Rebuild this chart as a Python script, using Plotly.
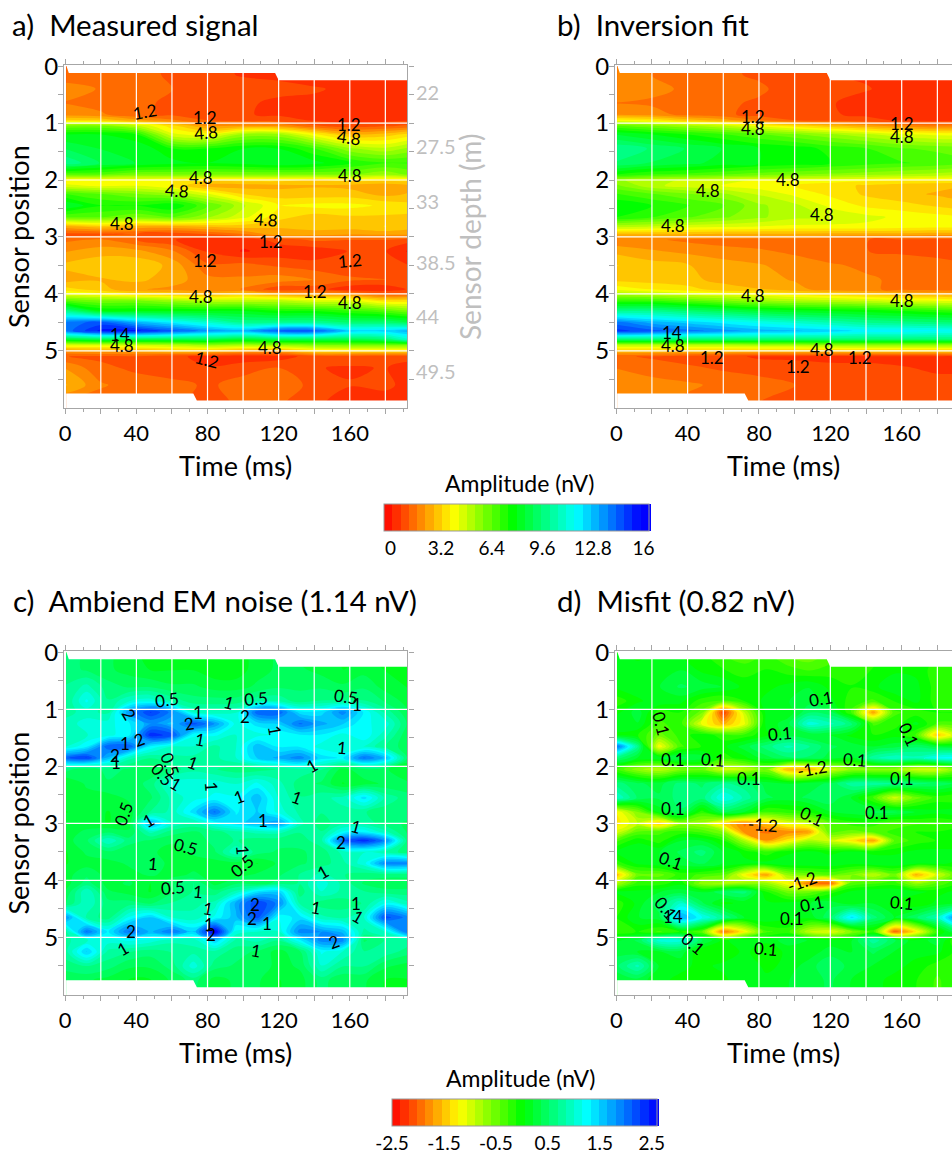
import plotly.graph_objects as go

W, H = 952, 1154
FONT = "Lato"

X_AB = [0.5, 20, 40, 60, 80, 100, 120, 140, 160, 180, 192.5]
Y_AB = [0, .15, .4, .65, .85, .95, 1.05, 1.2, 1.45, 1.7, 1.9, 2.0, 2.1, 2.25, 2.45, 2.65, 2.82, 2.95, 3.05, 3.25,
        3.5, 3.75, 3.92, 4.02, 4.12, 4.3, 4.5, 4.65, 4.8, 4.9, 5.0, 5.1, 5.3, 5.6, 5.9, 6]

MEASURED = [
 [1.6,1.6,1.4,1.1,.9,.6,.5,.5,.6,.7,.4],
 [1.6,1.6,1.4,1.1,.9,.6,.5,.5,.6,.7,.4],
 [1.8,1.7,1.5,1.2,1.1,1.0,.9,.7,.6,.6,.4],
 [1.7,1.5,1.3,1.1,1.0,.8,.5,.6,.4,.5,.6],
 [2.0,1.8,1.3,1.1,.9,.7,.6,.5,.3,.4,.6],
 [3.4,3.2,2.4,1.8,1.2,1.0,.9,.6,.4,.5,.6],
 [6.0,6,5,3.5,2.2,2.3,2.2,1.3,.9,1.1,1.3],
 [8,8,7.5,4.5,4,5.5,5.5,4,2.8,3,3.5],
 [9,8.5,8.5,7.5,7.5,8,8,7,5.5,5,5.5],
 [10,9,8.5,8.2,8,8.2,8.5,8.2,7.5,7,7],
 [6.5,6.5,6,6,6,6,6,6,6,5.5,6],
 [3.8,3.8,4,3.8,3.5,3.5,3.5,3.2,3.5,3.4,3.5],
 [4.5,4.2,4.3,3.8,2.5,2.5,2.6,2.7,2.6,2.4,2.6],
 [7,6.5,6,5.5,4.5,3.3,3,3,3,2.6,2.8],
 [8.5,7.5,7.5,8,6.5,5,3.8,4,4,3.7,3.5],
 [6.5,6.5,6,6.5,5.5,4.5,3.5,3,3.2,3.2,3.2],
 [2.5,3,2.5,2.5,2.8,3.0,2.8,3,3,3.3,3],
 [1,1,1.2,.9,1.2,1.7,2.6,2.5,2.3,2.4,2.4],
 [1.6,1.8,1.2,.7,.4,.3,.9,1.3,1.2,1.2,.9],
 [2.2,2.5,2.4,1.8,.6,.1,.3,.3,.7,.7,.1],
 [2.9,3.2,3.2,2.6,1.3,1.4,1.1,.9,.8,1.0,.7],
 [2.5,2.7,2.9,2.5,1.9,1.8,2.0,1.7,1.3,1.2,1.1],
 [3.5,3,2.3,2.1,1.8,1.7,.8,.9,.3,.3,.7],
 [4.5,4.2,3.7,3.4,3,3.4,2.8,2.5,2.4,1.5,1.5],
 [6.5,6,6,5.5,5,5,5,4.5,4.5,3.5,3.5],
 [10,8,8,8,8,8,7.5,7.5,7,6.5,6],
 [14,14.5,13,12,11,10,10,10,9.5,9.5,9],
 [14,15.5,15.5,14.5,13.5,13,14.5,14.5,12.5,12.5,13],
 [8.5,9,9,9,9,8.5,9,9,9,9.5,11],
 [4.5,4.5,4.7,5,5.5,5.2,5.5,5.8,6,6,6],
 [2.2,2.5,2.6,3,3.0,2.5,2.5,3.5,3.5,3.5,3.5],
 [1.2,1.1,1.1,.8,.5,.3,.4,.9,1.0,.9,.9],
 [2.2,1.3,1.1,.8,.7,1.0,1.2,.7,.6,.7,.4],
 [2.8,1.8,1.4,1.4,1.1,1.4,1.6,1.0,.7,.8,.5],
 [1.6,1.4,1.4,1.3,1.0,1.3,1.3,.8,.4,.4,.7],
 [1.6,1.4,1.4,1.3,1.0,1.3,1.3,.8,.4,.4,.7],
]

FIT = [
 [2.0,1.7,1.5,1.3,1.1,.9,.7,.6,.5,.4,.3],
 [2.0,1.7,1.5,1.3,1.1,.9,.7,.6,.5,.4,.3],
 [2.1,1.9,1.6,1.5,1.3,.9,.8,.7,.5,.4,.3],
 [1.7,1.6,1.4,1.3,1.1,.8,.7,.5,.4,.3,.3],
 [2.2,2.0,1.5,1.3,1.0,.8,.7,.6,.4,.3,.3],
 [4,3.7,3,2.5,1.7,1.2,1.0,.8,.6,.5,.5],
 [6.5,6,5.5,5,4.2,3.6,3,2.5,2,1.8,1.8],
 [8.5,8,7.5,7,6.5,6,5.5,5,4.5,4.2,4.2],
 [10,9.5,9,8.5,8,7.8,7.3,7,6.5,6.3,6.2],
 [9.5,9,8.7,8.3,8,7.8,7.5,7.2,7,6.8,6.6],
 [7.5,7,6.8,6.5,6.2,6,5.8,5.6,5.4,5.2,5],
 [5.5,5,4.8,4.5,4.3,4.2,4.1,4,3.8,3.8,3.8],
 [6,5,4.6,4.3,4,3.8,3.5,3.2,3,2.9,2.8],
 [7,6.5,6,5.5,4.8,4.2,3.7,3.2,2.9,2.7,2.5],
 [8,7.5,7,6.5,5.5,5,4.2,3.7,3.5,3.2,3.0],
 [7.5,7,6.5,6,5.5,5,4.8,4.5,4.2,4,3.9],
 [5,4.8,4.5,4.4,4.3,4.2,4.2,4.2,4.1,4,4],
 [2.8,2.8,2.8,2.7,2.7,2.7,2.6,2.6,2.6,2.5,2.5],
 [1.8,1.8,1.6,1.5,1.4,1.4,1.3,1.2,1.1,1,1],
 [2.6,2.3,2.1,1.9,1.8,1.6,1.3,1.2,1.1,1,.9],
 [3.3,3,2.8,2.5,2.3,2,1.8,1.6,1.5,1.4,1.3],
 [3.1,3,2.9,2.6,2.4,2.2,2.0,1.8,1.6,1.5,1.4],
 [4.2,3.8,3.5,3,2.8,2.4,2,1.8,1.6,1.5,1.4],
 [5.5,5.2,4.8,4.5,4.2,3.9,3.6,3.3,3.0,2.8,2.6],
 [7,7,6.5,6,5.5,5.2,5,4.8,4.5,4.3,4.2],
 [10,10,9.5,9,8.5,8.2,8,7.8,7.5,7.2,7],
 [14,13,12.5,12,11.5,11,10.5,10,9.8,9.6,9.5],
 [15,14.5,14,13.5,13,12.8,12.5,12,12,11.8,11.8],
 [9.5,9.5,9.5,9.5,9.5,9.5,9.5,9.5,9.5,9.5,9.5],
 [5,5,5,5,5.2,5.2,5.5,5.5,5.5,5.5,5.5],
 [3,3,3,3,3,3,3,3.2,3.2,3.2,3.2],
 [1.3,1.1,.9,.8,.6,.6,.5,.5,.5,.6,.7],
 [1.7,1.5,1.3,1.1,.9,.8,.8,.8,.7,.6,.6],
 [2.0,1.9,1.8,1.6,1.5,1.2,1.1,1.0,.9,.8,.8],
 [1.9,1.8,1.6,1.4,1.2,1.0,.9,.8,.8,.8,.8],
 [1.9,1.8,1.6,1.4,1.2,1.0,.9,.8,.8,.8,.8],
]

X_CD = [0.5, 12, 24, 36, 48, 60, 72, 84, 96, 108, 120, 132, 144, 156, 168, 180, 192.5]
Y_CD = [0, .3, .6, .85, 1.05, 1.25, 1.45, 1.65, 1.85, 2.05, 2.3, 2.55, 2.8, 3.0, 3.15, 3.3, 3.5, 3.7, 3.9, 4.05,
        4.2, 4.4, 4.65, 4.9, 5.05, 5.25, 5.5, 5.75, 6]

NOISE = [
 [.6,.5,.4,.3,.1,.2,.2,.1,.1,.3,.4,.3,.3,.2,.2,.1,.1],
 [.6,.5,.4,.3,.2,.2,.2,.1,.1,.3,.4,.4,.3,.2,.3,.2,.1],
 [.7,.9,.6,.5,.5,.4,.4,.3,.3,.4,.5,.5,.5,.4,.5,.3,.2],
 [.7,1.2,.7,1.0,1.1,.8,.6,.6,.6,.8,.8,.6,.7,.7,.7,.5,.3],
 [.8,.9,.8,1.8,2.3,1.9,1.0,.9,1.0,2.1,2.1,1.4,1.4,1.9,1.3,.8,.4],
 [.9,1.1,1.1,1.3,1.8,1.6,2.2,1.8,1.1,1.4,1.5,2.0,1.7,1.5,1.2,1.1,.5],
 [.9,1.0,1.1,1.3,2.4,2.2,1.2,1.2,1.0,1.1,1.2,1.3,1.3,1.1,1.3,.9,.4],
 [1.0,1.3,2.1,2.1,1.3,1.0,1.0,.8,1.0,1.6,1.3,1.3,1.1,1.0,1.0,.7,.4],
 [2.1,2.3,1.6,.9,.7,.8,.8,.8,1.0,1.5,1.7,1.9,1.4,1.3,2.0,1.6,.5],
 [.6,.4,.6,.5,.4,.6,.8,.7,.6,.6,.7,.8,.7,.3,.5,.4,.2],
 [.2,.4,.5,.4,.6,1.1,1.1,1.1,1.0,1.2,.9,.6,.5,.2,.3,.4,.4],
 [.3,.3,.3,.4,.5,.9,1.1,1.2,1.2,1.6,1.0,.7,.8,.9,1.4,.8,.6],
 [.2,.3,.2,.3,.7,.9,1.4,2.0,1.3,1.5,1.1,.8,.7,.8,.7,.6,.6],
 [.3,.3,.2,.3,1.7,1.0,.8,1.2,1.4,1.6,1.8,.9,.6,.8,.8,.6,.5],
 [.3,.4,.5,.4,.9,.6,.5,.6,.8,.9,.9,.7,.7,1.2,1.3,.9,.5],
 [.3,.5,1.0,.6,.5,.4,.4,.6,.7,.6,.6,.6,.8,2.1,2.4,1.9,.6],
 [.2,.4,.5,.4,.4,.3,.4,.5,1.0,.6,.5,.5,.6,.9,1.0,.8,.6],
 [.2,.3,.3,.4,.5,.3,.3,.3,.3,.2,.4,.5,.6,.8,1.1,1.9,1.9],
 [.3,.5,.3,.3,.4,.3,.4,.3,.3,.4,.5,.7,.9,.7,.6,.6,.6],
 [.3,.6,.3,.4,.2,.5,.7,.3,.5,.4,.6,.7,1.1,.8,.5,.4,.4],
 [.4,1.0,.4,.3,.2,.5,.7,.6,.9,1.4,1.5,.6,1.0,.8,.7,.6,.6],
 [.5,1.0,.6,.6,.5,.7,.8,.9,1.7,2.3,1.9,.8,.6,.6,.7,1.2,.9],
 [1.8,.8,.6,1.2,1.5,1.0,.9,1.2,1.6,2.2,1.2,1.4,.9,.8,1.0,2.2,1.9],
 [.8,2.0,1.3,2.0,1.6,2.0,1.5,2.7,1.1,1.0,1.0,1.9,1.8,1.6,.8,1.0,2.0],
 [.8,1.0,1.1,1.2,1.1,.9,.9,1.5,.8,.9,.7,1.3,1.9,1.9,.5,.7,.8],
 [.8,1.5,.8,.7,.6,.7,.8,.8,.6,.5,.3,.5,1.2,1.0,.7,.8,.6],
 [.6,.7,.6,.4,.4,.6,1.1,.6,.5,.5,.3,.4,1.0,.7,.7,.4,.3],
 [.4,.4,.3,.2,.2,.4,.6,.3,.4,.4,.2,.3,.6,.4,.4,.2,.2],
 [.4,.4,.3,.2,.2,.4,.6,.3,.4,.4,.2,.3,.6,.4,.4,.2,.2],
]

MISFIT = [
 [.1,0,.1,0,-.1,-.3,-.4,-.3,-.5,-.6,-.4,-.2,-.2,0,0,-.1,-.2],
 [.1,.1,.2,.2,0,-.1,-.2,-.1,-.2,-.3,-.2,-.2,-.1,0,0,-.2,-.1],
 [.1,.2,.2,.4,.3,.2,0,0,.1,.2,0,-.1,0,.2,.1,-.2,-.1],
 [-.2,0,.2,.1,-.2,-.3,-.1,.1,.2,.3,.1,-.2,-.3,-.1,.1,-.2,-.2],
 [0,.3,-.2,-.1,-.5,-2.2,-.9,.1,.1,.5,.4,-.3,-1.7,-.3,-.2,-.1,-.1],
 [.2,.2,-.3,-.2,-1.1,-1.6,-1.1,.1,.3,1.1,.9,.6,-.3,-.2,.1,-.3,-.3],
 [0,-.1,-.5,-.2,0,-.2,-.2,0,.3,.2,.2,0,-.1,0,-.3,-1.5,-.8],
 [2.0,.7,-1.2,-.3,-.1,0,.3,.6,.9,.7,.4,.3,.2,.3,.5,.3,.2],
 [.6,.2,.2,.4,.3,-.2,0,.3,.5,.5,.3,.2,.8,1.0,.9,1.2,1.3],
 [-.3,-.7,-.9,-.6,-.5,-1.0,-.9,-.6,-1.6,-1.6,-1.0,-.7,-.7,-.7,-1.0,-1.0,-.5],
 [.6,.4,.3,.6,.5,.7,.6,.3,.2,.3,.4,.8,.8,.7,.6,.5,.3],
 [1.0,.5,.4,.6,.6,1.2,.8,.4,.3,.4,.5,.2,-.3,-1.0,-.5,-.2,-.3],
 [-1.2,-.6,.1,.5,-.2,.4,.2,-.3,-.2,-.1,.2,.3,.4,.4,.2,.1,.2],
 [-1.3,-.9,-1.5,-.7,-.8,-1.4,-1.9,-1.5,-1.1,-.9,-.4,-.2,-.2,-.4,-.3,-.3,-.2],
 [-1.0,-.4,-.3,-.2,-.3,-.6,-1.8,-1.9,-1.8,-1.7,-.4,-.5,-.4,-.2,-.1,-.1,0],
 [-.3,0,-.2,.2,.2,-.1,-.8,-1.7,-1.3,-.8,-1.0,-1.3,-1.7,-.4,-.2,-.1,-.1],
 [.1,.2,.2,.4,.6,.2,0,-.2,0,.1,0,.1,0,0,.1,.1,.1],
 [-.2,.1,.2,.3,.4,.2,.1,.1,.2,.2,.2,.1,.2,.2,.1,.1,0],
 [-1.5,-.5,-.5,-.2,-.3,-.4,-1.2,-1.7,-.7,-.5,-.4,-.6,-.9,-.5,-1.6,-1.0,-.3],
 [-.8,-.2,-.2,0,-.7,-.8,-.7,-.7,-1.2,-1.9,-2.0,-.4,-.3,-.2,-.7,-.4,-.1],
 [.1,.1,.2,.3,.2,.5,.6,-.1,-.5,-.5,-.2,.1,.2,.2,.1,0,.1],
 [-.2,.1,.5,1.0,.4,0,.1,.1,.1,.2,.3,.1,.2,0,-.1,.1,.2],
 [-.1,.2,.3,1.7,1.2,.7,.2,.2,.1,.1,.5,1.4,.6,.2,.5,.9,2.1],
 [-.2,-.1,-.3,-.1,-.4,-1.9,-1.2,-.3,-.2,-.9,-1.1,-.6,-.2,-2.0,-1.3,-.2,.6],
 [.2,.4,1.1,1.1,.4,0,.2,.1,.3,.2,.1,.2,.8,.4,.1,.3,-.4],
 [.3,.2,.2,.3,-.1,-.1,.1,-.1,.1,.1,.3,.2,.4,.2,.1,.1,-.2],
 [.5,.9,.2,.1,0,.1,.2,0,.1,.3,.5,.3,.2,.1,0,-.2,-.3],
 [.2,.3,.1,0,-.1,0,.2,.1,.2,.3,.4,.2,.1,0,-.1,-.3,-.1],
 [.2,.3,.1,0,-.1,0,.2,.1,.2,.3,.4,.2,.1,0,-.1,-.3,-.1],
]

LABELS_A = [(44.9,.80,"1.2",-10),(78.5,.90,"1.2",0),(78.9,1.16,"4.8",-5),(159.8,1.02,"1.2",0),(159.8,1.26,"4.8",8),
 (76.6,1.95,"4.8",0),(63,2.19,"4.8",5),(160,1.92,"4.8",0),(32,2.77,"4.8",0),(113,2.70,"4.8",5),(115.5,3.08,"1.2",0),
 (78.5,3.42,"1.2",0),(160.4,3.42,"1.2",-5),(140.7,3.95,"1.2",0),(76.4,4.05,"4.8",0),(160,4.15,"4.8",0),(30.8,4.71,"14",0),
 (32,4.91,"4.8",0),(115.3,4.95,"4.8",0),(79.8,5.16,"1.2",15)]
LABELS_B = [(76.4,.89,"1.2",0),(76.4,1.09,"4.8",0),(160,1.0,"1.2",0),(160,1.24,"4.8",0),(96,2.0,"4.8",0),(51.2,2.19,"4.8",0),
 (115.5,2.6,"4.8",0),(32,2.8,"4.8",0),(76.4,4.02,"4.8",0),(160,4.12,"4.8",0),(31,4.68,"14",0),(32,4.9,"4.8",0),
 (115.5,4.97,"4.8",0),(53.5,5.12,"1.2",0),(101.7,5.27,"1.2",0),(136.8,5.12,"1.2",0)]
LABELS_C = [(57.4,.82,"0.5",-8),(91.8,.88,"1",15),(107,.80,"0.5",-5),(158,.77,"0.5",8),(164,.92,"1",0),(36,1.09,"2",60),
 (74.8,1.05,"1",0),(69.7,1.25,"2",-10),(101,1.13,"2",0),(118,1.37,"1",80),(41.5,1.52,"2",-20),(33.6,1.60,"1",0),
 (76,1.52,"1",10),(155.7,1.67,"1",5),(28,1.80,"2",0),(28.4,1.93,"1",0),(71.6,1.93,"1",20),(59,1.97,"0.5",70),
 (54.6,2.15,"0.5",50),(62,2.30,"1",30),(82.4,2.35,"1",85),(97.8,2.53,"1",-20),(130.5,2.54,"1",20),(138.7,1.99,"1",-30),
 (32.7,2.82,"0.5",-70),(46.4,2.94,"1",-30),(111.2,2.95,"1",0),(163.6,3.06,"1",15),(154.8,3.33,"2",0),(67.9,3.40,"0.5",15),
 (49.5,3.70,"1",5),(100,3.47,"1",85),(99.6,3.74,"0.5",-40),(145.2,3.85,"1",-30),(60.7,4.13,"0.5",-5),(74.8,4.19,"1",5),
 (106.5,4.43,"2",0),(80.4,4.50,"1",10),(141,4.47,"1",10),(163.6,4.40,"1",0),(164.5,4.64,"1",30),(105,4.67,"2",0),
 (113.6,4.75,"1",0),(36.8,4.89,"2",0),(81,4.78,"1",0),(81.9,4.95,"2",0),(151.4,5.07,"2",-20),(32.7,5.20,"1",-30),(107.5,5.23,"1",10)]
LABELS_D = [(25.4,1.24,"0.1",75),(115,.81,"0.1",-10),(92,1.43,"0.1",-5),(164,1.44,"0.1",65),(32,1.88,"0.1",0),(54.4,1.87,"0.1",5),
 (134,1.88,"0.1",5),(110,2.03,"-1.2",-10),(74.4,2.22,"0.1",0),(160,2.22,"0.1",0),(32,2.74,"0.1",0),(110,2.88,"0.1",25),
 (146,2.81,"0.1",0),(82.4,3.01,"-1.2",5),(30.5,3.65,"0.1",20),(104,4.02,"-1.2",-20),(110,4.41,"0.1",-12),(160,4.38,"0.1",5),
 (98.7,4.66,"0.1",0),(28,4.49,"0.1",50),(32,4.63,"14",0),(43,5.11,"0.1",40),(84,5.2,"0.1",5)]

DEPTH_LABELS = ["22", "27.5", "33", "38.5", "44", "49.5"]
DEPTH_POS = [0.45, 1.41, 2.37, 3.44, 4.39, 5.35]

TOP_EDGE_X = [0.5, 2, 118, 120, 193, 193, 0.5]
TOP_EDGE_Y = [-.02, .12, .12, .25, .25, -.02, -.02]
BOT_EDGE_X = [0.5, 72, 74, 193, 193, 0.5, 0.5]
BOT_EDGE_Y = [5.75, 5.75, 5.875, 5.875, 6.01, 6.01, 5.75]

GRID_T = [20, 40, 60, 80, 100, 120, 140, 160, 180]
GRID_P = [1, 2, 3, 4, 5]
TIME_TICKS = [0, 20, 40, 60, 80, 100, 120, 140, 160, 180]
POS_TICKS = [0, .5, 1, 1.5, 2, 2.5, 3, 3.5, 4, 4.5, 5, 5.5]

RAINBOW_AB = [[0, "#ff0000"], [.27, "#ffff00"], [.5, "#00ff00"], [.75, "#00ffff"], [1, "#0000ff"]]
RAINBOW_CD = [[0, "#ff0000"], [.255, "#ffff00"], [.49, "#00ff00"], [.735, "#00ffff"], [1, "#0000ff"]]
AXIS_GREY = "#a6a6a6"
DEPTH_GREY = "#bfbfbf"


def xd(px): return px / W
def yd(py): return 1 - py / H


fig = go.Figure()
PANELS = [
    ("", MEASURED, X_AB, Y_AB, LABELS_A, (-.38, 16.38, .52375), (64, 407.4), (65, 408.3), 192.4, RAINBOW_AB),
    ("2", FIT, X_AB, Y_AB, LABELS_B, (-.38, 16.38, .52375), (615, 952), (65, 408.3), 188.2, RAINBOW_AB),
    ("3", NOISE, X_CD, Y_CD, LABELS_C, (-2.5, 2.6, .159375), (64, 407.4), (651.3, 995), 192.4, RAINBOW_CD),
    ("4", MISFIT, X_CD, Y_CD, LABELS_D, (-2.5, 2.6, .159375), (615, 952), (651.3, 995), 188.2, RAINBOW_CD),
]
CBARS = {0: (517, 504), 2: (524.5, 1099)}
CB_TITLE_POS = [(519.5, 483), (520, 1078)]
CB_TICKS = {0: [0, 3.2, 6.4, 9.6, 12.8, 16], 2: [-2.5, -1.5, -.5, .5, 1.5, 2.5]}
CB_TEXT = {0: ["0", "3.2", "6.4", "9.6", "12.8", "16"], 2: ["-2.5", "-1.5", "-0.5", "0.5", "1.5", "2.5"]}

annotations = []
for i, (xs, z, gx, gy, labels, lev, xp, yp, xmax, scale) in enumerate(PANELS):
    xa, ya = "x" + xs, "y" + xs
    trace = dict(
        x=gx, y=gy, z=z, xaxis=xa, yaxis=ya, colorscale=scale, zmin=lev[0], zmax=lev[1],
        autocontour=False, contours=dict(start=lev[0], end=lev[1], size=lev[2], coloring="fill"),
        line=dict(width=0, smoothing=1.0), hoverinfo="skip", showscale=i in CBARS,
    )
    if i in CBARS:
        cx, cy = CBARS[i]
        trace["colorbar"] = dict(
            orientation="h", lenmode="pixels", len=265, thickness=27, thicknessmode="pixels",
            x=xd(cx), xanchor="center", xref="paper", y=yd(cy), yanchor="top", yref="paper",
            outlinecolor="#999999", outlinewidth=1, tickvals=CB_TICKS[i], ticktext=CB_TEXT[i], ticks="",
            tickfont=dict(family=FONT, size=19, color="black"), xpad=0, ypad=0,
        )
    fig.add_trace(go.Contour(**trace))
    for ex, ey in ((TOP_EDGE_X, TOP_EDGE_Y), (BOT_EDGE_X, BOT_EDGE_Y)):
        fig.add_trace(go.Scatter(x=ex, y=ey, xaxis=xa, yaxis=ya, mode="lines", fill="toself", fillcolor="white",
                                 line=dict(width=0, color="white"), hoverinfo="skip", showlegend=False))
    gxs, gys = [], []
    for t in GRID_T:
        gxs += [t, t, None]
        gys += [0, 6, None]
    for p in GRID_P:
        gxs += [0.5, 193, None]
        gys += [p, p, None]
    fig.add_trace(go.Scatter(x=gxs, y=gys, xaxis=xa, yaxis=ya, mode="lines", line=dict(width=1.2, color="white"),
                             hoverinfo="skip", showlegend=False))
    ax = dict(
        domain=[xd(xp[0]), xd(xp[1])], range=[-.7, xmax], anchor=ya, showgrid=False, zeroline=False,
        showline=True, mirror="ticks", linecolor=AXIS_GREY, linewidth=1.2, ticks="outside", ticklen=5,
        tickcolor=AXIS_GREY, tickmode="array", tickvals=TIME_TICKS,
        ticktext=[str(t) if t % 40 == 0 else "" for t in TIME_TICKS],
        tickfont=dict(family=FONT, size=22, color="black"),
        minor=dict(dtick=10, ticks="outside", ticklen=3, tickcolor=AXIS_GREY, showgrid=False),
        title=dict(text="Time (ms)", font=dict(family=FONT, size=27, color="black"), standoff=12),
    )
    ay = dict(
        domain=[yd(yp[1]), yd(yp[0])], range=[6.01, -.02], anchor=xa, showgrid=False, zeroline=False,
        showline=True, mirror="ticks", linecolor=AXIS_GREY, linewidth=1.2, ticks="outside", ticklen=5,
        tickcolor=AXIS_GREY, tickmode="array", tickvals=POS_TICKS, ticklabelstandoff=-5,
        ticktext=[str(int(p)) if p == int(p) else "" for p in POS_TICKS],
        tickfont=dict(family=FONT, size=24, color="black"),
    )
    if i in (0, 2):
        ay["title"] = dict(text="Sensor position", font=dict(family=FONT, size=27, color="black"), standoff=6)
    fig.update_layout(**{"xaxis" + xs: ax, "yaxis" + xs: ay})
    for (lx, ly, txt, ang) in labels:
        annotations.append(dict(x=lx, y=ly, xref=xa, yref=ya, text=txt, textangle=ang, showarrow=False,
                                font=dict(family=FONT, size=17, color="black")))

TITLES = [("a)\u00a0\u00a0Measured signal", 10, 24), ("b)\u00a0\u00a0Inversion fit", 555, 24),
          ("c)\u00a0\u00a0Ambiend EM noise (1.14 nV)", 11, 600), ("d)\u00a0\u00a0Misfit (0.82 nV)", 555, 600)]
for txt, px, py in TITLES:
    annotations.append(dict(x=xd(px), y=yd(py), xref="paper", yref="paper", xanchor="left", yanchor="middle",
                            text=txt, showarrow=False, font=dict(family=FONT, size=29.5, color="black")))
for txt, pos in zip(DEPTH_LABELS, DEPTH_POS):
    annotations.append(dict(x=xd(414), y=pos, xref="paper", yref="y", xanchor="left", text=txt, showarrow=False,
                            font=dict(family=FONT, size=20, color=DEPTH_GREY)))
annotations.append(dict(x=xd(470), y=yd(237), xref="paper", yref="paper", xanchor="center", yanchor="middle",
                        text="Sensor depth (m)", textangle=-90, showarrow=False,
                        font=dict(family=FONT, size=28, color=DEPTH_GREY)))
for px, py in CB_TITLE_POS:
    annotations.append(dict(x=xd(px), y=yd(py), xref="paper", yref="paper", xanchor="center", yanchor="middle",
                            text="Amplitude (nV)", showarrow=False, font=dict(family=FONT, size=23, color="black")))

fig.update_layout(width=W, height=H, margin=dict(l=0, r=0, t=0, b=0, autoexpand=False), paper_bgcolor="white",
                  plot_bgcolor="white", showlegend=False, annotations=annotations)
fig.write_html("out.html", config={"displayModeBar": False},
               post_script="document.body.style.margin='0';document.body.style.overflow='hidden';")
